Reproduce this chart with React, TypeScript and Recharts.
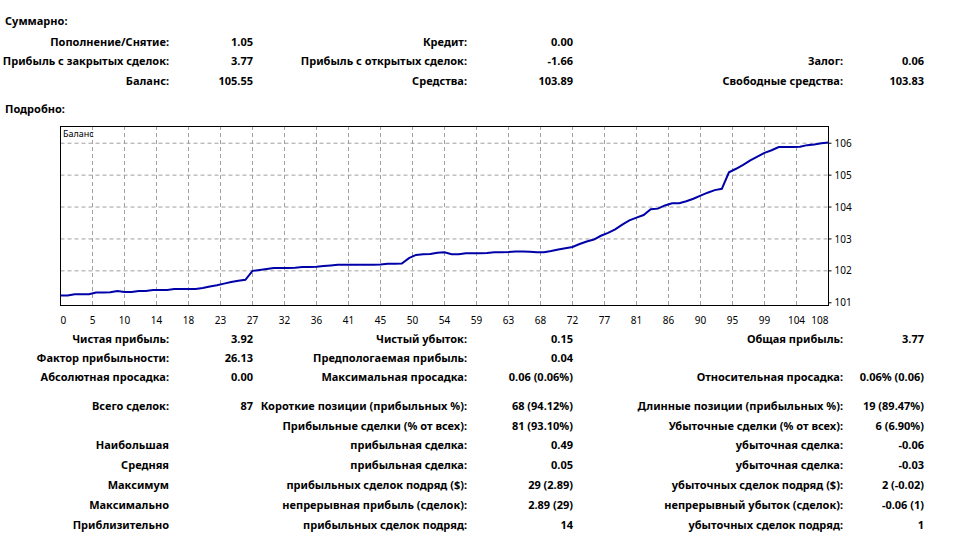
import React from 'react';
import {
  LineChart,
  Line,
  XAxis,
  YAxis,
  CartesianGrid,
  ReferenceArea,
} from 'recharts';

// balance per deal index
const balance = [
  101.23, 101.23, 101.27, 101.27, 101.27, 101.32, 101.32, 101.33, 101.37, 101.34,
  101.34, 101.37, 101.37, 101.40, 101.40, 101.40, 101.43, 101.43, 101.43, 101.43,
  101.46, 101.51, 101.55, 101.60, 101.65, 101.69, 101.72, 102.00, 102.03, 102.06,
  102.09, 102.09, 102.09, 102.10, 102.12, 102.12, 102.13, 102.15, 102.17, 102.19,
  102.19, 102.19, 102.19, 102.19, 102.19, 102.20, 102.22, 102.22, 102.23, 102.40,
  102.50, 102.52, 102.53, 102.57, 102.58, 102.52, 102.52, 102.55, 102.55, 102.55,
  102.56, 102.58, 102.58, 102.59, 102.61, 102.61, 102.60, 102.58, 102.58, 102.62,
  102.67, 102.71, 102.75, 102.84, 102.92, 102.98, 103.10, 103.19, 103.30, 103.45,
  103.58, 103.67, 103.75, 103.93, 103.95, 104.05, 104.12, 104.12, 104.18, 104.26,
  104.36, 104.45, 104.53, 104.57, 105.09, 105.20, 105.32, 105.46, 105.58, 105.70,
  105.78, 105.88, 105.88, 105.88, 105.89, 105.94, 105.96, 106.00, 106.02,
];

const xTickLabels = [
  '0', '5', '10', '14', '18', '23', '27', '32', '36', '41', '45', '50', '54',
  '59', '63', '68', '72', '77', '81', '86', '90', '95', '99', '104', '108',
];
const yTicks = [101, 102, 103, 104, 105, 106];
const yGrid = [102, 103, 104, 105, 106];

const summaryRows = [
  ['Пополнение/Снятие:', '1.05', 'Кредит:', '0.00', '', ''],
  ['Прибыль с закрытых сделок:', '3.77', 'Прибыль с открытых сделок:', '-1.66', 'Залог:', '0.06'],
  ['Баланс:', '105.55', 'Средства:', '103.89', 'Свободные средства:', '103.83'],
];

const detailRows = [
  ['Чистая прибыль:', '3.92', 'Чистый убыток:', '0.15', 'Общая прибыль:', '3.77'],
  ['Фактор прибыльности:', '26.13', 'Предпологаемая прибыль:', '0.04', '', ''],
  ['Абсолютная просадка:', '0.00', 'Максимальная просадка:', '0.06 (0.06%)', 'Относительная просадка:', '0.06% (0.06)'],
  ['Всего сделок:', '87', 'Короткие позиции (прибыльных %):', '68 (94.12%)', 'Длинные позиции (прибыльных %):', '19 (89.47%)'],
  ['', '', 'Прибыльные сделки (% от всех):', '81 (93.10%)', 'Убыточные сделки (% от всех):', '6 (6.90%)'],
  ['Наибольшая', '', 'прибыльная сделка:', '0.49', 'убыточная сделка:', '-0.06'],
  ['Средняя', '', 'прибыльная сделка:', '0.05', 'убыточная сделка:', '-0.03'],
  ['Максимум', '', 'прибыльных сделок подряд ($):', '29 (2.89)', 'убыточных сделок подряд ($):', '2 (-0.02)'],
  ['Максимально', '', 'непрерывная прибыль (сделок):', '2.89 (29)', 'непрерывный убыток (сделок):', '-0.06 (1)'],
  ['Приблизительно', '', 'прибыльных сделок подряд:', '14', 'убыточных сделок подряд:', '1'],
];

const summaryY = [42, 61, 81];
const detailY = [339, 358, 377, 406, 426, 445, 465, 485, 505, 525];
const colRight = [169, 253, 467, 573, 843, 924];

const FONT = '"Noto Sans", "DejaVu Sans", sans-serif';
const GRID = '#a0a0a0';
const chartData = balance.map((value, idx) => ({ idx, value }));
const xTicks = xTickLabels.map((_, i) => i * 4.5);

const XTick = (props: any) => {
  const { x, y, index } = props;
  const last = xTickLabels.length - 1;
  const anchor = index === 0 ? 'start' : index === last ? 'end' : 'middle';
  return (
    <text x={x} y={y + 11} textAnchor={anchor} fontSize={10} fontFamily={FONT} fill="#000">
      {xTickLabels[index]}
    </text>
  );
};

const TableRows = ({ rows, ys }: { rows: string[][]; ys: number[] }) => (
  <>
    {rows.map((row, r) =>
      row.map((cell, c) =>
        cell ? (
          <div
            key={`${r}-${c}`}
            style={{
              position: 'absolute',
              right: 955 - colRight[c],
              top: ys[r] - 8,
              whiteSpace: 'nowrap',
              fontWeight: 700,
              fontSize: 11,
              lineHeight: '16px',
            }}
          >
            {cell}
          </div>
        ) : null,
      ),
    )}
  </>
);

export default function App() {
  return (
    <div style={{ position: 'relative', width: 955, height: 554, background: '#fff', fontFamily: FONT, color: '#000' }}>
      <style>{'body{margin:0;}'}</style>
      <div style={{ position: 'absolute', left: 5, top: 13, fontWeight: 700, fontSize: 11, lineHeight: '16px' }}>Суммарно:</div>
      <TableRows rows={summaryRows} ys={summaryY} />
      <div style={{ position: 'absolute', left: 5, top: 101, fontWeight: 700, fontSize: 11, lineHeight: '16px' }}>Подробно:</div>

      <div style={{ position: 'absolute', left: 0, top: 120 }}>
        <LineChart width={955} height={210} data={chartData} margin={{ top: 6, right: 96.5, left: 60.5, bottom: 5 }}>
          <CartesianGrid
            stroke={GRID}
            strokeDasharray="4 3"
            horizontalValues={yGrid}
            verticalValues={xTicks}
          />
          <XAxis
            dataKey="idx"
            type="number"
            domain={[0, 108]}
            ticks={xTicks}
            interval={0}
            axisLine={false}
            tickLine={false}
            height={20}
            tick={<XTick />}
          />
          <YAxis
            orientation="right"
            type="number"
            domain={[100.93, 106.54]}
            ticks={yTicks}
            interval={0}
            axisLine={false}
            tickLine={{ stroke: '#000' }}
            tickSize={3}
            tickMargin={3}
            width={30}
            tick={{ fontSize: 10, fill: '#000', fontFamily: FONT }}
          />
          <ReferenceArea
            x1={0}
            x2={108}
            y1={100.93}
            y2={106.54}
            fill="none"
            stroke="#000"
            strokeWidth={1}
            shapeRendering="crispEdges"
          />
          <Line
            type="linear"
            dataKey="value"
            stroke="#0000a8"
            strokeWidth={2}
            dot={false}
            isAnimationActive={false}
          />
        </LineChart>
      </div>
      <div style={{ position: 'absolute', left: 63, top: 128, fontSize: 9, lineHeight: '12px' }}>Баланс</div>

      <TableRows rows={detailRows} ys={detailY} />
    </div>
  );
}
